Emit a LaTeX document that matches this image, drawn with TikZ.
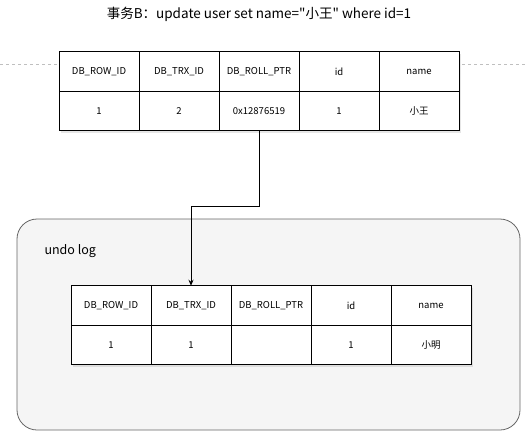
\documentclass[tikz,border=0pt]{standalone}
\usepackage{fontspec}
\setmainfont{Noto Sans CJK SC}[Ligatures=TeXOff]
\usetikzlibrary{positioning,arrows.meta,shadows}

\begin{document}
\begin{tikzpicture}[x=1pt, y=-1pt,
    cell/.style={draw, rectangle, fill=white, line width=0.8pt, minimum height=39.5pt, minimum width=80pt, inner sep=0pt, outer sep=0pt, font=\fontsize{9.5}{11}\selectfont, drop shadow={opacity=0.2, shadow xshift=1.5pt, shadow yshift=-2pt}},
    logbox/.style={draw=black!60, fill=black!4, line width=0.8pt, rounded corners=20pt, minimum width=503pt, minimum height=211pt, inner sep=0pt}]
    \useasboundingbox (0,0) rectangle (526,436);

    % title and dashed guide line
    \node (Title) at (259,14) {\fontsize{13.5}{15}\selectfont 事务B：update user set name="小王" where id=1};
    \coordinate (DashL) at (0,64);
    \coordinate (DashR) at (526,64);
    \draw [black!25, dash pattern=on 3pt off 3pt] (DashL) -- (DashR);

    % current row
    \node [cell] (RowId) at (99,71.5) {DB\_ROW\_ID};
    \node [cell, right=0pt of RowId] (TrxId) {DB\_TRX\_ID};
    \node [cell, right=0pt of TrxId] (RollPtr) {DB\_ROLL\_PTR};
    \node [cell, right=0pt of RollPtr] (Id) {id};
    \node [cell, right=0pt of Id] (Name) {name};
    \node [cell, below=0pt of RowId] (RowIdVal) {1};
    \node [cell, right=0pt of RowIdVal] (TrxIdVal) {2};
    \node [cell, right=0pt of TrxIdVal] (RollPtrVal) {0x12876519};
    \node [cell, right=0pt of RollPtrVal] (IdVal) {1};
    \node [cell, right=0pt of IdVal] (NameVal) {小王};

    % undo log
    \node [logbox] (Undo) at (268.5,324.5) {};
    \node [anchor=west, font=\fontsize{12.5}{14}\selectfont] (UndoLabel) at (41,251) {undo log};

    \node [cell] (UndoRowId) at (111,305.5) {DB\_ROW\_ID};
    \node [cell, right=0pt of UndoRowId] (UndoTrxId) {DB\_TRX\_ID};
    \node [cell, right=0pt of UndoTrxId] (UndoRollPtr) {DB\_ROLL\_PTR};
    \node [cell, right=0pt of UndoRollPtr] (UndoId) {id};
    \node [cell, right=0pt of UndoId] (UndoName) {name};
    \node [cell, below=0pt of UndoRowId] (UndoRowIdVal) {1};
    \node [cell, right=0pt of UndoRowIdVal] (UndoTrxIdVal) {1};
    \node [cell, right=0pt of UndoTrxIdVal] (UndoRollPtrVal) {};
    \node [cell, right=0pt of UndoRollPtrVal] (UndoIdVal) {1};
    \node [cell, right=0pt of UndoIdVal] (UndoNameVal) {小明};

    \draw [-{Stealth[length=6pt,width=5pt]}, line width=0.8pt] (RollPtrVal.south) -- ++(0,76) -| (UndoTrxId.north);

\end{tikzpicture}
\end{document}
